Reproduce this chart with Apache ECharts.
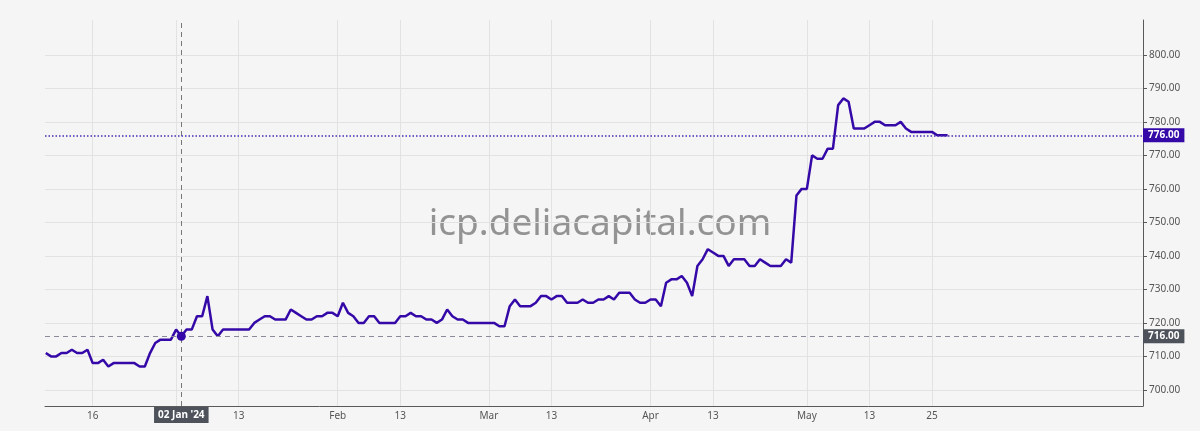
<!DOCTYPE html>
<html>
<head>
<meta charset="utf-8">
<title>icp.deliacapital.com</title>
<script src="https://cdn.jsdelivr.net/npm/echarts@6/dist/echarts.min.js"></script>
<style>
  html, body { margin: 0; padding: 0; background: #f4f4f4; }
  #chart { width: 1200px; height: 431px; }
</style>
</head>
<body>
<div id="chart"></div>
<script>
// daily closes, one list per month, first entry = first day of that block
const dec23 = [711, 710, 710, 711, 711, 712, 711, 711, 712, 708, 708, 709, 707, 708, 708, 708, 708, 708, 707, 707, 711, 714, 715, 715, 715] // from 07 Dec
const jan24 = [718, 716, 718, 718, 722, 722, 728, 718, 716, 718, 718, 718, 718, 718, 718, 720, 721, 722, 722, 721, 721, 721, 724, 723, 722, 721, 721, 722, 722, 723, 723]
const feb24 = [722, 726, 723, 722, 720, 720, 722, 722, 720, 720, 720, 720, 722, 722, 723, 722, 722, 721, 721, 720, 721, 724, 722, 721, 721, 720, 720, 720, 720]
const mar24 = [720, 720, 719, 719, 725, 727, 725, 725, 725, 726, 728, 728, 727, 728, 728, 726, 726, 726, 727, 726, 726, 727, 727, 728, 727, 729, 729, 729, 727, 726, 726]
const apr24 = [727, 727, 725, 732, 733, 733, 734, 732, 728, 737, 739, 742, 741, 740, 740, 737, 739, 739, 739, 737, 737, 739, 738, 737, 737, 737, 739, 738, 758, 760]
const may24 = [760, 770, 769, 769, 772, 772, 785, 787, 786, 778, 778, 778, 779, 780, 780, 779, 779, 779, 780, 778, 777, 777, 777, 777, 777, 776, 776, 776]

const blocks = [
  { start: [2023, 12, 7], values: dec23 },
  { start: [2024, 1, 1], values: jan24 },
  { start: [2024, 2, 1], values: feb24 },
  { start: [2024, 3, 1], values: mar24 },
  { start: [2024, 4, 1], values: apr24 },
  { start: [2024, 5, 1], values: may24 }
]

// x axis marks
const xTicks = ['2023-12-16', '2024-01-01', '2024-01-13', '2024-02-01', '2024-02-13', '2024-03-01',
  '2024-03-13', '2024-04-01', '2024-04-13', '2024-05-01', '2024-05-13', '2024-05-25']
const yTicks = [700, 710, 720, 730, 740, 750, 760, 770, 780, 790, 800]
const crossDate = '2024-01-02'

const monthNames = ['Jan', 'Feb', 'Mar', 'Apr', 'May', 'Jun', 'Jul', 'Aug', 'Sep', 'Oct', 'Nov', 'Dec']
const lineColor = '#3509a8'

function ts(str) {
  const p = str.split('-').map(Number)
  return new Date(p[0], p[1] - 1, p[2]).getTime()
}

const seriesData = []
blocks.forEach(b => {
  b.values.forEach((v, i) => {
    seriesData.push([new Date(b.start[0], b.start[1] - 1, b.start[2] + i).getTime(), v])
  })
})

const crossTs = ts(crossDate)
const crossValue = seriesData.find(d => d[0] === crossTs)[1]
const lastValue = seriesData[seriesData.length - 1][1]

function tickLabel(v) {
  const d = new Date(v)
  return d.getDate() === 1 ? monthNames[d.getMonth()] : String(d.getDate())
}

function crossLabel() {
  const d = new Date(crossTs)
  const dd = ('0' + d.getDate()).slice(-2)
  return dd + ' ' + monthNames[d.getMonth()] + ' \'' + String(d.getFullYear()).slice(-2)
}

const chart = echarts.init(document.getElementById('chart'))
const font = 'Noto Sans'

chart.setOption({
  backgroundColor: '#f5f5f5',
  animation: false,
  textStyle: { fontFamily: font },
  grid: {
    left: 45,
    right: 57,
    top: 20,
    bottom: 25
  },
  graphic: [{
    type: 'text',
    left: 'center',
    top: 206,
    z: 0,
    style: {
      text: 'icp.deliacapital.com',
      fontSize: 37,
      fontFamily: font,
      fill: '#939393'
    }
  }],
  xAxis: {
    // plain value axis holding timestamps, so the irregular date marks can be given directly
    type: 'value',
    min: new Date(2023, 11, 6, 20, 24).getTime(),
    max: new Date(2024, 6, 4, 11, 30).getTime(),
    axisLine: { onZero: false, lineStyle: { color: '#5a5a5a', width: 1 } },
    axisTick: { show: false, customValues: xTicks.map(ts) },
    axisLabel: {
      customValues: xTicks.map(ts),
      formatter: tickLabel,
      color: '#555',
      fontSize: 10,
      margin: 5
    },
    splitLine: { show: true, lineStyle: { color: '#e2e2e2' } }
  },
  yAxis: {
    type: 'value',
    position: 'right',
    min: 695.2,
    max: 810.4,
    axisLine: { show: true, onZero: false, lineStyle: { color: '#5a5a5a', width: 1 } },
    axisTick: { show: true, length: 4, customValues: yTicks, lineStyle: { color: '#5a5a5a' } },
    axisLabel: {
      customValues: yTicks,
      formatter: v => v.toFixed(2),
      color: '#555',
      fontSize: 10,
      margin: 6
    },
    splitLine: { show: true, lineStyle: { color: '#e2e2e2' } }
  },
  series: [{
    type: 'line',
    data: seriesData,
    showSymbol: false,
    z: 3,
    lineStyle: { color: lineColor, width: 2.5 },
    itemStyle: { color: lineColor },
    markLine: {
      symbol: 'none',
      silent: true,
      data: [
        {
          xAxis: crossTs,
          lineStyle: { color: '#777', type: [5, 4], width: 1 },
          label: {
            position: 'start',
            distance: 1,
            formatter: crossLabel,
            color: '#fff',
            fontSize: 10,
            fontWeight: 'bold',
            backgroundColor: '#4d525b',
            padding: [3, 4]
          }
        },
        {
          yAxis: crossValue,
          lineStyle: { color: '#8a8a9a', type: [5, 4], width: 1 },
          label: {
            position: 'end',
            distance: 0,
            formatter: v => v.value.toFixed(2),
            color: '#fff',
            fontSize: 10,
            fontWeight: 'bold',
            backgroundColor: '#4d525b',
            padding: [2, 5]
          }
        },
        {
          yAxis: lastValue,
          lineStyle: { color: '#4a2bb0', type: [1.5, 2], width: 1.5 },
          label: {
            position: 'end',
            distance: 0,
            formatter: v => v.value.toFixed(2),
            color: '#fff',
            fontSize: 10,
            fontWeight: 'bold',
            backgroundColor: lineColor,
            padding: [2, 5]
          }
        }
      ]
    },
    markPoint: {
      symbol: 'circle',
      symbolSize: 9,
      silent: true,
      z: 10,
      itemStyle: { color: lineColor },
      label: { show: false },
      data: [{ coord: [crossTs, crossValue] }]
    }
  }]
})
</script>
</body>
</html>
